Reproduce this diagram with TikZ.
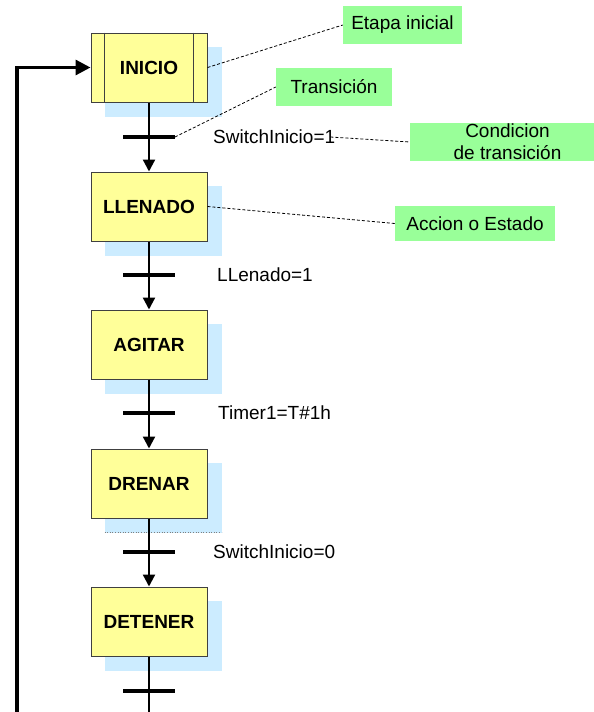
\documentclass[tikz,border=0pt]{standalone}
\usepackage{fontspec}
\setmainfont{Liberation Sans}
\usetikzlibrary{arrows.meta,backgrounds}
\definecolor{stepfill}{HTML}{FFFF99}
\definecolor{stepline}{HTML}{404040}
\definecolor{shadowblue}{HTML}{CCECFF}
\definecolor{notegreen}{HTML}{99FF99}
\tikzset{
  stepbox/.style={draw=stepline, line width=1pt, fill=stepfill, minimum width=116pt,
    minimum height=69pt, inner sep=0pt, font=\fontsize{19}{22}\selectfont\bfseries},
  condlabel/.style={anchor=west, inner sep=0pt, font=\fontsize{19}{22}\selectfont},
  notebox/.style={fill=notegreen, inner sep=0pt, minimum height=38pt, align=center,
    font=\fontsize{19}{22}\selectfont},
  flow/.style={line width=2.2pt, -{Triangle[length=12pt,width=12pt]}},
  loopline/.style={line width=3.2pt, -{Triangle[length=15pt,width=15pt]}},
  bar/.style={line width=4pt},
  leader/.style={line width=0.8pt, dash pattern=on 3pt off 2pt},
}
\begin{document}
\begin{tikzpicture}[x=1pt, y=-1pt]
\useasboundingbox (0,0) rectangle (594,712);
\begin{scope}
\clip (0,0) rectangle (594,712);

% steps of the sequence
\node[stepbox] (inicio)  at (149,67.5)  {INICIO};
\node[stepbox] (llenado) at (149,206.5) {LLENADO};
\node[stepbox] (agitar)  at (149,344.5) {AGITAR};
\node[stepbox] (drenar)  at (149,483.5) {DRENAR};
\node[stepbox] (detener) at (149,621.5) {DETENER};

% double side lines of the initial step
\draw[stepline, line width=1pt] ([xshift=14pt]inicio.north west) -- ([xshift=14pt]inicio.south west);
\draw[stepline, line width=1pt] ([xshift=-14pt]inicio.north east) -- ([xshift=-14pt]inicio.south east);

% soft shadows behind the steps
\begin{scope}[on background layer]
  \foreach \s in {inicio,llenado,agitar,drenar,detener}
    \fill[shadowblue] ([shift={(14,14)}]\s.south west) rectangle ([shift={(14,14)}]\s.north east);
\end{scope}
\draw[gray, line width=0.6pt, dotted] ([shift={(14,14)}]drenar.south west) -- ([shift={(14,14)}]drenar.south east);

% transitions
\coordinate (t1) at (149,137);
\coordinate (t2) at (149,275);
\coordinate (t3) at (149,413);
\coordinate (t4) at (149,552);
\coordinate (t5) at (149,691);
\coordinate (tail) at (149,720);

\draw[flow] (inicio) -- (llenado);
\draw[flow] (llenado) -- (agitar);
\draw[flow] (agitar) -- (drenar);
\draw[flow] (drenar) -- (detener);
\draw[line width=2.2pt] (detener) -- (tail);

\foreach \t in {t1,t2,t3,t4,t5}
  \draw[bar] ([xshift=-26pt]\t) -- ([xshift=26pt]\t);

% return loop to the initial step
\coordinate (loopstart) at (17,720);
\draw[loopline] (loopstart) |- (inicio.west);

% transition conditions
\node[condlabel] (c1) at (213,137) {SwitchInicio=1};
\node[condlabel] (c2) at (217,275) {LLenado=1};
\node[condlabel] (c3) at (218,413) {Timer1=T\#1h};
\node[condlabel] (c4) at (213,552) {SwitchInicio=0};

% explanatory notes
\node[notebox, minimum width=119pt] (etapa) at (402.5,25) {Etapa inicial};
\node[notebox, minimum width=116pt] (trans) at (334,87) {Transición};
\node[notebox, minimum width=195pt] (cond) at (507.5,142) {Condicion\\de transición};
\node[notebox, minimum width=160pt, minimum height=35pt] (accion) at (475,223.5) {Accion o Estado};

\draw[leader] (inicio.east) -- (etapa.west);
\draw[leader] ([xshift=26pt]t1) -- (trans.west);
\draw[leader] ([xshift=-5pt]c1.east) -- (cond.west);
\draw[leader] (llenado.east) -- (accion.west);
\end{scope}
\end{tikzpicture}
\end{document}
